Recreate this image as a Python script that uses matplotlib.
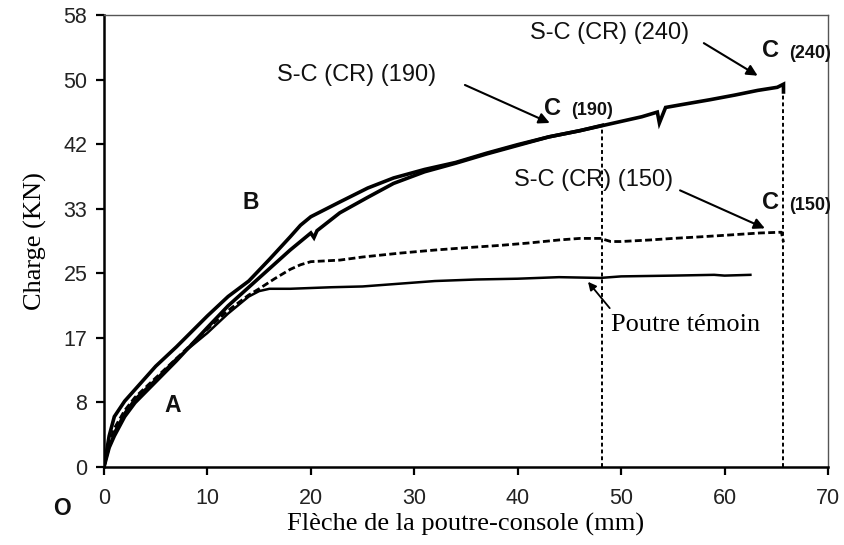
import matplotlib.pyplot as plt
import numpy as np

# Courbes charge-flèche (mm, kN)
x_190 = [0, 0.5, 1, 2, 3, 5, 7, 10, 12, 14, 16, 18, 19, 20, 22.8, 25.5, 28, 31, 34, 37, 40, 43, 46, 48.2]
y_190 = [0, 4, 6.5, 8.5, 10, 13, 15.5, 19.5, 22, 24, 26.8, 29.7, 31.2, 32.3, 34.2, 36, 37.3, 38.4, 39.3, 40.5, 41.6, 42.6, 43.4, 44.1]

x_240 = [0, 0.5, 1, 2, 3, 5, 7, 10, 12, 14, 16, 18, 20, 20.3, 20.6, 22.8, 25.5, 28, 31, 34, 37, 40, 43,
         46, 49, 52, 53.5, 53.7, 54.3, 56, 58.6, 61, 63.2, 65.1, 65.7, 65.7]
y_240 = [0, 2.5, 4, 6.5, 8.3, 11, 13.7, 18, 20.8, 23.2, 25.6, 28, 30.2, 29.6, 30.5, 32.8, 34.8, 36.6, 38.1, 39.2, 40.4, 41.5, 42.6,
         43.4, 44.3, 45.2, 45.8, 44.4, 46.4, 46.8, 47.4, 48.0, 48.6, 49.0, 49.4, 48.4]

x_150 = [0, 0.5, 1, 2, 3, 5, 7, 10, 12, 14, 15, 16.5, 18, 19, 20, 22.8, 25, 28.6, 32, 35, 38.3, 41, 44,
         46, 48, 49, 50, 52.8, 55, 57.6, 60, 63.4, 65.5, 65.7]
y_150 = [0, 3, 5, 7.3, 9, 11.5, 14, 17.8, 20.2, 22.2, 23, 24.3, 25.5, 26.1, 26.5, 26.7, 27.1, 27.6, 28.0, 28.3, 28.6, 28.9, 29.3,
         29.5, 29.5, 29.1, 29.1, 29.3, 29.5, 29.7, 29.9, 30.2, 30.3, 29.0]

x_temoin = [0, 0.5, 1, 2, 3, 5, 7, 10, 12, 14, 15, 16, 18, 20, 22, 25, 28, 32, 36, 40, 44, 48, 50, 55, 59, 60, 62.5]
y_temoin = [0, 2.5, 4.5, 7, 8.8, 11.3, 14, 17.3, 19.8, 22, 22.7, 23, 23, 23.1, 23.2, 23.3, 23.6, 24.0, 24.2, 24.3, 24.5, 24.4,
            24.6, 24.7, 24.8, 24.7, 24.8]

# points C : fin des essais renforcés
c_190 = (48.2, 44.1)
c_240 = (65.7, 49.4)

y_max = 58.333
y_ticks = np.linspace(0, y_max, 8)
y_labels = ["0", "8", "17", "25", "33", "42", "50", "58"]
x_ticks = [0, 10, 20, 30, 40, 50, 60, 70]

fig = plt.figure(figsize=(8.44, 5.45), dpi=100)
ax = fig.add_axes([0.1232, 0.1431, 0.8578, 0.8294])

ax.plot(x_190, y_190, color="black", lw=2.6, solid_joinstyle="miter")
ax.plot(x_240, y_240, color="black", lw=2.6, solid_joinstyle="miter")
ax.plot(x_150, y_150, color="black", lw=2.0, linestyle=(0, (2.5, 1.2)))
ax.plot(x_temoin, y_temoin, color="black", lw=1.8)

# repères verticaux en pointillés
for cx, cy in (c_190, c_240):
    ax.plot([cx, cx], [0, cy], color="black", lw=1.4, linestyle=(0, (2, 1.5)))

ax.set_xlim(0, 70)
ax.set_ylim(0, y_max)
ax.set_xticks(x_ticks)
ax.set_xticklabels([str(t) for t in x_ticks])
ax.set_yticks(y_ticks)
ax.set_yticklabels(y_labels)

for side in ("left", "bottom"):
    ax.spines[side].set_linewidth(1.8)
    ax.spines[side].set_color("black")
for side in ("top", "right"):
    ax.spines[side].set_linewidth(1.0)
    ax.spines[side].set_color("#555555")
ax.tick_params(direction="out", length=6, width=1.6, top=False, right=False,
               labelsize=15.5, labelcolor="#222222")
ax.tick_params(axis="x", pad=9)
ax.tick_params(axis="y", pad=6)
for lab in ax.get_xticklabels() + ax.get_yticklabels():
    lab.set_fontfamily("Liberation Sans")

ax.set_xlabel("Flèche de la poutre-console (mm)", fontfamily="Liberation Serif",
              fontsize=19, labelpad=3)
ax.set_ylabel("Charge (KN)", fontfamily="Liberation Serif", fontsize=19, labelpad=12)

sans = dict(fontfamily="Liberation Sans", color="#111111")
arrow = dict(arrowstyle="-|>", color="black", lw=1.5, mutation_scale=16, shrinkA=0, shrinkB=0)

# étiquettes des séries
ax.text(48.9, 56.0, "S-C (CR) (240)", fontsize=17, ha="center", va="center", **sans)
ax.text(24.4, 50.6, "S-C (CR) (190)", fontsize=17, ha="center", va="center", **sans)
ax.text(47.3, 37.0, "S-C (CR) (150)", fontsize=17, ha="center", va="center", **sans)
ax.text(56.2, 18.3, "Poutre témoin", fontsize=19, fontfamily="Liberation Serif",
        ha="center", va="center")

# flèches vers les courbes
ax.annotate("", xy=(63.2, 50.5), xytext=(58.0, 54.7), arrowprops=arrow)
ax.annotate("", xy=(43.1, 44.4), xytext=(34.9, 49.3), arrowprops=arrow)
ax.annotate("", xy=(63.9, 30.8), xytext=(55.7, 35.7), arrowprops=arrow)
ax.annotate("", xy=(46.8, 23.9), xytext=(48.9, 20.5),
            arrowprops=dict(arrow, lw=1.3, mutation_scale=12))

# repères A, B, C et origine O
ax.text(6.6, 8.0, "A", fontsize=16.5, fontweight="bold", ha="center", va="center", **sans)
ax.text(14.2, 34.1, "B", fontsize=16.5, fontweight="bold", ha="center", va="center", **sans)
ax.text(-4.1, -5.3, "O", fontsize=16.5, fontweight="bold", ha="center", va="center", **sans)
for (cx, cy), (sx, sy), sub in (((43.4, 46.3), (47.2, 46.0), "(190)"),
                                ((64.4, 53.8), (68.3, 53.4), "(240)"),
                                ((64.4, 34.1), (68.3, 33.7), "(150)")):
    ax.text(cx, cy, "C", fontsize=17, fontweight="bold", ha="center", va="center", **sans)
    ax.text(sx, sy, sub, fontsize=13, fontweight="bold", ha="center", va="center", **sans)

fig.savefig("out.png", dpi=100)
